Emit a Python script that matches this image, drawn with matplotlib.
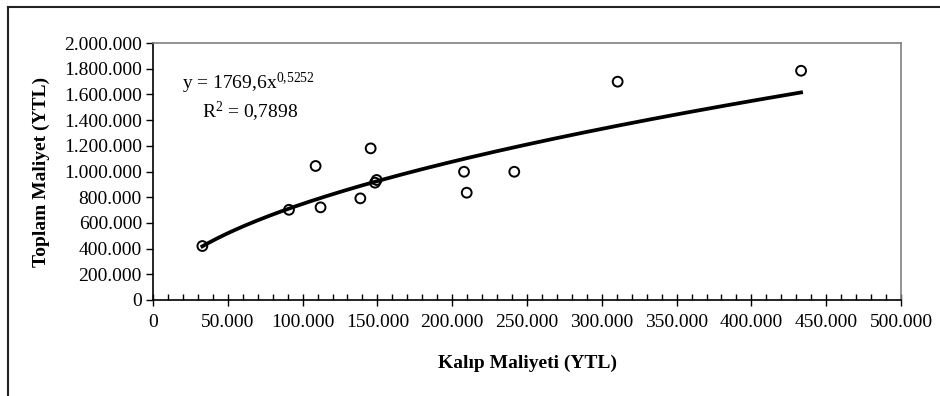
import matplotlib
matplotlib.use("Agg")
import matplotlib.pyplot as plt
import numpy as np
from matplotlib.ticker import FuncFormatter, MultipleLocator
from matplotlib.lines import Line2D

plt.rcParams.update({'font.family': 'Liberation Serif',
                     'mathtext.fontset': 'custom',
                     'mathtext.rm': 'Liberation Serif',
                     'mathtext.it': 'Liberation Serif:italic'})

# data (YTL)
kalip = [33000, 90900, 112000, 138600, 108700, 145500, 149500, 148400,
         207900, 209700, 241500, 310600, 433200]
toplam = [420000, 702000, 721000, 791000, 1043000, 1180000, 934000, 913000,
          998000, 835000, 998000, 1699000, 1784000]

# power trend shown on the chart
coef_a = 1769.6
coef_b = 0.5252
r2 = "0,7898"

x_ticks = np.arange(0, 500001, 50000)
y_ticks = np.arange(0, 2000001, 200000)


def tr_fmt(v, pos):
    return f"{int(round(v)):,}".replace(",", ".")


W, H = 940, 396
fig = plt.figure(figsize=(W / 100, H / 100), dpi=100)
ax = fig.add_axes([153 / W, 1 - 300 / H, (901 - 153) / W, (300 - 43) / H])

xs = np.linspace(min(kalip), max(kalip), 200)
ax.plot(xs, coef_a * xs ** coef_b, color='black', lw=2.7, zorder=2)
ax.scatter(kalip, toplam, s=50, facecolors='none', edgecolors='black',
           linewidths=1.4, zorder=3)

ax.set_xlim(0, 500000)
ax.set_ylim(0, 2000000)
ax.set_xticks(x_ticks)
ax.set_yticks(y_ticks)
ax.xaxis.set_minor_locator(MultipleLocator(10000))
ax.xaxis.set_major_formatter(FuncFormatter(tr_fmt))
ax.yaxis.set_major_formatter(FuncFormatter(tr_fmt))
ax.tick_params(axis='x', which='major', direction='inout', length=8,
               width=1, labelsize=14, pad=6)
ax.tick_params(axis='x', which='minor', direction='in', length=4, width=1)
ax.tick_params(axis='y', which='major', direction='out', length=5,
               width=1, labelsize=14, pad=3)

for s in ('top', 'right'):
    ax.spines[s].set_color('#808080')
    ax.spines[s].set_linewidth(1.2)
for s in ('left', 'bottom'):
    ax.spines[s].set_color('black')
    ax.spines[s].set_linewidth(1.2)

ax.set_xlabel("Kalıp Maliyeti (YTL)", fontsize=14, fontweight='bold',
              labelpad=17)
ax.set_ylabel("Toplam Maliyet (YTL)", fontsize=14, fontweight='bold',
              labelpad=10)

fig.text(182 / W, 1 - 83 / H, r"y = 1769,6x$^{0{,}5252}$", fontsize=14,
         va='center', ha='left')
fig.text(202 / W, 1 - 112 / H, r"R$^{2}$ = " + r2, fontsize=14,
         va='center', ha='left')

# outer chart border (left and top edges visible)
fig.add_artist(Line2D([8 / W, 8 / W], [0, 1 - 7 / H], transform=fig.transFigure,
                      color='#222222', lw=1.5))
fig.add_artist(Line2D([8 / W, 1], [1 - 7 / H, 1 - 7 / H],
                      transform=fig.transFigure, color='#222222', lw=1.5))

fig.savefig("out.png", dpi=100, facecolor='white')
